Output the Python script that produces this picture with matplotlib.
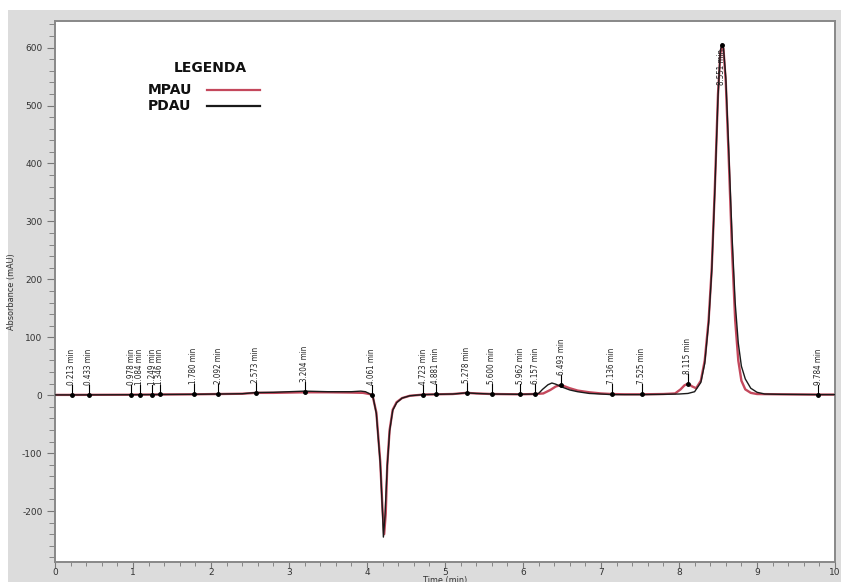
# Cromatograma MPAU / PDAU
import matplotlib.pyplot as plt
from matplotlib.patches import Rectangle
from matplotlib.ticker import MultipleLocator

# dados MPAU (vermelho)
t_mpau = [0.0, 0.213, 0.433, 0.978, 1.084, 1.249, 1.346, 1.780, 2.092, 2.40, 2.573, 2.80, 3.00,
          3.204, 3.50, 3.80, 3.95, 4.03, 4.07, 4.12, 4.17, 4.20, 4.22, 4.24, 4.26, 4.29, 4.33,
          4.38, 4.45, 4.55, 4.723, 4.881, 5.10, 5.278, 5.40, 5.600, 5.962, 6.157, 6.26, 6.35,
          6.42, 6.47, 6.52, 6.60, 6.70, 6.85, 7.00, 7.136, 7.30, 7.525, 7.80, 7.95, 8.02, 8.07,
          8.115, 8.17, 8.22, 8.28, 8.33, 8.38, 8.42, 8.46, 8.50, 8.53, 8.551, 8.57, 8.60, 8.64,
          8.68, 8.72, 8.76, 8.80, 8.85, 8.92, 9.00, 9.30, 9.784, 10.0]
v_mpau = [0.5, 0.5, 0.6, 0.8, 1.0, 1.0, 1.2, 1.5, 2.0, 2.5, 4.0, 4.0, 4.5,
          5.0, 5.0, 4.5, 4.0, 2.0, 0.0, -30, -115, -200, -240, -205, -120, -60, -25,
          -12, -5, -1, 1.0, 1.5, 2.0, 4.0, 3.0, 2.0, 1.5, 2.0, 3.0, 9.0,
          15, 17, 16, 12, 8.0, 5.0, 3.0, 2.0, 1.5, 1.5, 2.0, 3.0, 10, 17,
          20, 15, 12, 25, 60, 130, 220, 360, 520, 590, 604, 598, 540, 400,
          250, 130, 60, 25, 10, 4.0, 2.0, 1.5, 1.0, 1.0]

# dados PDAU (preto)
t_pdau = [0.0, 0.213, 0.433, 0.978, 1.346, 1.780, 2.092, 2.40, 2.573, 2.80, 3.00, 3.204,
          3.50, 3.80, 3.92, 3.98, 4.04, 4.08, 4.12, 4.17, 4.20, 4.21, 4.23, 4.26, 4.29, 4.33,
          4.38, 4.45, 4.55, 4.723, 4.881, 5.10, 5.278, 5.40, 5.600, 5.962, 6.157, 6.20, 6.25,
          6.32, 6.37, 6.42, 6.50, 6.60, 6.70, 6.85, 7.00, 7.136, 7.525, 7.80, 8.00, 8.115,
          8.20, 8.28, 8.33, 8.38, 8.42, 8.46, 8.50, 8.53, 8.551, 8.57, 8.60, 8.64, 8.68,
          8.72, 8.76, 8.80, 8.85, 8.92, 9.00, 9.10, 9.30, 9.784, 10.0]
v_pdau = [0.5, 0.5, 0.6, 0.8, 1.2, 1.5, 2.0, 2.5, 4.5, 5.0, 6.0, 7.0,
          6.0, 6.0, 7.0, 6.0, 2.0, -5, -32, -118, -205, -245, -210, -122, -62, -26,
          -13, -5, -1, 1.0, 1.5, 2.0, 4.0, 3.0, 2.0, 1.5, 2.0, 3.0, 10,
          18, 21, 19, 14, 9.0, 6.0, 3.0, 2.0, 1.0, 1.0, 1.5, 2.0, 3.0,
          6.0, 22, 55, 125, 215, 355, 515, 595, 606, 600, 548, 415, 275,
          160, 90, 50, 28, 12, 5.0, 2.0, 1.5, 1.0, 1.0]

# picos identificados (tempo de retencao, altura do ponto)
peak_times = [0.213, 0.433, 0.978, 1.084, 1.249, 1.346, 1.780, 2.092, 2.573, 3.204, 4.061,
              4.723, 4.881, 5.278, 5.600, 5.962, 6.157, 6.493, 7.136, 7.525, 8.115, 9.784]
peak_heights = [0.5, 0.6, 0.8, 1.0, 1.0, 1.2, 1.5, 2.0, 4.0, 5.0, 1.0,
                1.0, 1.5, 4.0, 2.0, 1.5, 2.0, 17, 2.0, 1.5, 20, 1.0]
main_peak_time = 8.551
main_peak_height = 604

plt.rcParams['axes.unicode_minus'] = False
small = dict(fontsize=5.8, family='DejaVu Sans', fontstretch='condensed', color='#222222')

fig = plt.figure(figsize=(8.41, 5.82), dpi=100, facecolor='white')
fig.patches.append(Rectangle((0.01, 0), 0.99, 572 / 582, transform=fig.transFigure,
                             facecolor='#dcdcdc', edgecolor='none', zorder=-1))
ax = fig.add_axes([55 / 841, 20 / 582, 780 / 841, 541 / 582])
ax.set_facecolor('white')

ax.plot(t_mpau, v_mpau, color='#c4485c', linewidth=1.7, zorder=2)
ax.plot(t_pdau, v_pdau, color='#1a1a1a', linewidth=1.0, zorder=3)

# marcadores dos picos
for t, h in zip(peak_times, peak_heights):
    ax.plot([t, t], [h, h + 17], color='black', linewidth=0.8, zorder=4)
    ax.plot(t, h, 'o', color='black', markersize=2.5, zorder=4)
    ax.text(t, h + 17, f'{t:.3f} min', rotation=90, ha='center', va='bottom', zorder=5, **small)
ax.plot(main_peak_time, main_peak_height, 'o', color='black', markersize=2.5, zorder=4)
ax.text(main_peak_time, main_peak_height - 6, f'{main_peak_time:.3f} min', rotation=90,
        ha='center', va='top', zorder=5, **small)

ax.set_xlim(0, 10)
ax.set_ylim(-288, 646)
ax.xaxis.set_major_locator(MultipleLocator(1))
ax.xaxis.set_minor_locator(MultipleLocator(0.2))
ax.yaxis.set_major_locator(MultipleLocator(100))
ax.yaxis.set_minor_locator(MultipleLocator(20))
ax.tick_params(which='both', direction='out', colors='#777777', labelcolor='#333333',
               labelsize=6.5)
ax.tick_params(axis='y', which='major', length=6, pad=3)
ax.tick_params(axis='y', which='minor', length=4)
ax.tick_params(axis='x', which='major', length=4, pad=0.5)
ax.tick_params(axis='x', which='minor', length=3)
for s in ax.spines.values():
    s.set_color('#888888')
    s.set_linewidth(1.4)

ax.set_xlabel('Time (min)', fontsize=6.5, family='DejaVu Sans', fontstretch='condensed',
              color='#333333')
ax.set_ylabel('Absorbance (mAU)', fontsize=6.5, family='DejaVu Sans', fontstretch='condensed',
              color='#333333')
ax.xaxis.set_label_coords(0.5, -0.0255)
ax.yaxis.set_label_coords(-0.05, 0.5)

# legenda
ax.text(0.1987, 0.913, 'LEGENDA', transform=ax.transAxes, ha='center', va='center',
        fontsize=10, fontweight='bold', color='#111111')
for name, col, ypos in [('MPAU', '#c4485c', 0.8725), ('PDAU', '#1a1a1a', 0.843)]:
    ax.text(0.119, ypos, name, transform=ax.transAxes, ha='left', va='center',
            fontsize=10, fontweight='bold', color='#111111')
    ax.plot([0.195, 0.263], [ypos, ypos], transform=ax.transAxes, color=col, linewidth=1.6)

plt.savefig('out.png', dpi=100, facecolor=fig.get_facecolor())
